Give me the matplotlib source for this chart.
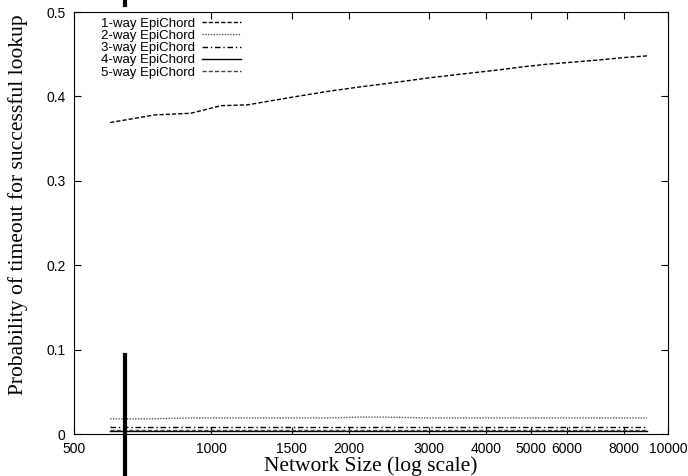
import matplotlib
matplotlib.use("Agg")
import matplotlib.pyplot as plt
from matplotlib.lines import Line2D
from matplotlib.ticker import FixedLocator, NullLocator

network_size = [600, 750, 900, 1050, 1200, 1500, 1800, 2100, 2400, 3000, 3600,
                4200, 4800, 5400, 6000, 7000, 8000, 9000]
way1 = [0.369, 0.378, 0.380, 0.389, 0.390, 0.399, 0.406, 0.411, 0.415, 0.422,
        0.427, 0.431, 0.435, 0.438, 0.440, 0.443, 0.446, 0.448]
way2 = [0.018, 0.018, 0.019, 0.019, 0.019, 0.019, 0.019, 0.020, 0.020, 0.019,
        0.019, 0.019, 0.019, 0.019, 0.019, 0.019, 0.019, 0.019]
way3 = [0.008] * len(network_size)
way4 = [0.003] * len(network_size)
way5 = [0.005] * len(network_size)

labels = ["1-way EpiChord", "2-way EpiChord", "3-way EpiChord",
          "4-way EpiChord", "5-way EpiChord"]
xticks = [500, 1000, 1500, 2000, 3000, 4000, 5000, 6000, 8000, 10000]
xtick_labels = ["500", "1000", "1500", "2000", "3000", "4000", "5000", "6000", "8000", "10000"]
yticks = [0, 0.1, 0.2, 0.3, 0.4, 0.5]
ytick_labels = ["0", "0.1", "0.2", "0.3", "0.4", "0.5"]

sans = ["Liberation Sans", "DejaVu Sans"]
serif = ["Liberation Serif", "DejaVu Serif"]

fig = plt.figure(figsize=(6.88, 4.76), dpi=100)
ax = fig.add_axes([74/688, 42/476, 594/688, 422/476])

styles = [
    dict(color="black", linestyle=(0, (3, 1.5)), lw=1.0),
    dict(color="#555555", linestyle=(0, (1, 1)), lw=1.0),
    dict(color="black", linestyle=(0, (4, 2, 1, 2)), lw=1.0),
    dict(color="black", linestyle="-", lw=1.0),
    dict(color="#444444", linestyle=(0, (3, 1.5)), lw=1.0),
]
for ys, lab, st in zip([way1, way2, way3, way4, way5], labels, styles):
    ax.plot(network_size, ys, label=lab, **st)

ax.set_xscale("log")
ax.set_xlim(500, 10000)
ax.set_ylim(0, 0.5)
ax.xaxis.set_major_locator(FixedLocator(xticks))
ax.xaxis.set_minor_locator(NullLocator())
ax.set_xticks(xticks)
ax.set_xticklabels(xtick_labels, fontfamily=sans, fontsize=10)
ax.set_yticks(yticks)
ax.set_yticklabels(ytick_labels, fontfamily=sans, fontsize=10)
ax.tick_params(direction="in", top=True, right=True, length=5, width=0.8, pad=6)

ax.set_xlabel("Network Size (log scale)", fontfamily=serif, fontsize=15.5, labelpad=0)
ax.set_ylabel("Probability of timeout for successful lookup", fontfamily=serif,
              fontsize=15.5, va="center")
ax.yaxis.set_label_coords((18 - 74) / 594, (434 - 205) / 422)

leg = ax.legend(loc="upper left", bbox_to_anchor=(0.028, 1.012), frameon=False,
                markerfirst=False, prop={"family": sans, "size": 9.5},
                labelspacing=0.0, handlelength=3.0, handletextpad=0.5,
                borderpad=0.3)

# stray vertical marks present in the original image
fig.add_artist(Line2D([125/688, 125/688], [0, (476-355)/476], color="black",
                      lw=3, transform=fig.transFigure))
fig.add_artist(Line2D([125/688, 125/688], [(476-5)/476, 1], color="black",
                      lw=3, transform=fig.transFigure))

fig.savefig("out.png", dpi=100)
